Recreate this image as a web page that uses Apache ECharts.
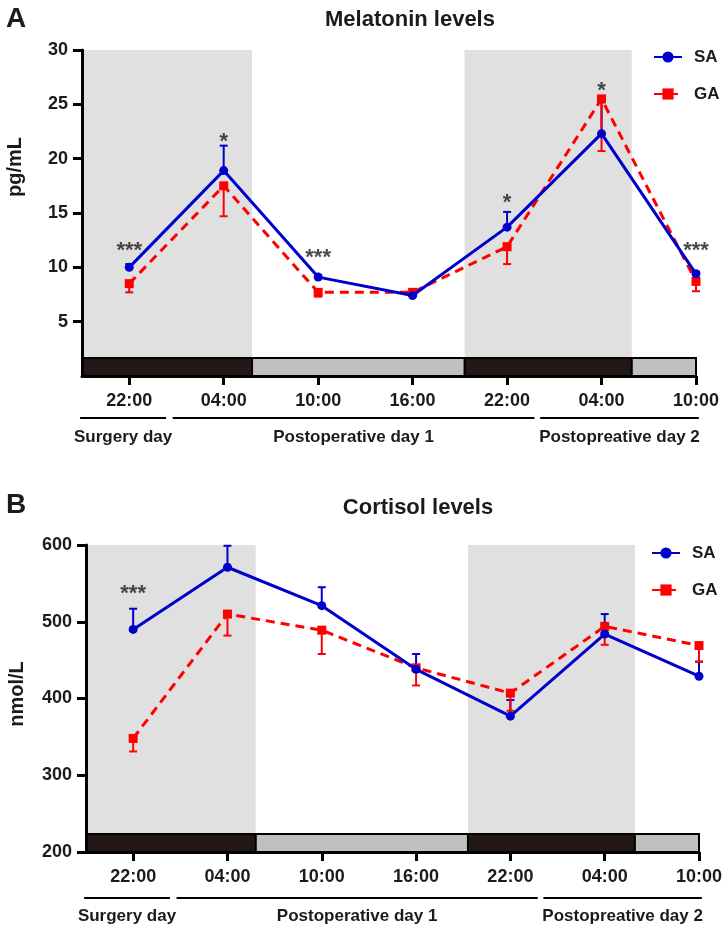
<!DOCTYPE html>
<html>
<head>
<meta charset="utf-8">
<script src="https://cdn.jsdelivr.net/npm/echarts@6/dist/echarts.min.js"></script>
<style>
  html, body { margin: 0; padding: 0; background: #fff; }
  #main { width: 727px; height: 931px; }
</style>
</head>
<body>
<div id="main"></div>
<script>
// time points (x positions 0..6, one every 6 hours)
var timeLabels = ['22:00', '04:00', '10:00', '16:00', '22:00', '04:00', '10:00'];
var timePos = [0, 1, 2, 3, 4, 5, 6];

// day groups under the time axis
var dayNames = ['Surgery day', 'Postoperative day 1', 'Postopreative day 2'];
var daySpans = [[-0.52, 0.39], [0.46, 4.29], [4.35, 6.03]];

// night (19:00-06:00) and day periods in x units
var nightSpans = [[-0.5, 1.3], [3.55, 5.32]];
var lightSpans = [[1.3, 3.55], [5.32, 6]];

// Melatonin (pg/mL)
var melTicks = [5, 10, 15, 20, 25, 30];
var melSA = [10.0, 18.9, 9.1, 7.4, 13.7, 22.3, 9.4];
var melSAerr = [0.3, 2.3, 0.2, 0.1, 1.4, 2.9, 0.2];
var melGA = [8.5, 17.5, 7.7, 7.7, 11.9, 25.5, 8.7];
var melGAerr = [0.8, 2.8, 0.4, 0.2, 1.6, 4.8, 0.9];
var melStarPos = [0, 1, 2, 4, 5, 6];
var melStarVal = [12.0, 22.0, 11.3, 16.4, 26.7, 12.0];
var melStarText = ['***', '*', '***', '*', '*', '***'];

// Cortisol (nmol/L)
var corTicks = [200, 300, 400, 500, 600];
var corSA = [490, 571, 521, 438, 377, 484, 429];
var corSAerr = [27, 28, 24, 20, 21, 26, 19];
var corGA = [348, 510, 489, 440, 407, 494, 469];
var corGAerr = [17, 28, 31, 23, 23, 24, 21];
var corStarPos = [0];
var corStarVal = [543];
var corStarText = ['***'];

var FONT = 'Liberation Sans, Arial, Helvetica, sans-serif';
var INK = '#1e1a1b';
var BLUE = '#0000cc';
var RED = '#ff0000';

function pairs(xs, ys) {
    return xs.map(function (x, i) { return [x, ys[i]]; });
}

function errData(xs, ys, es, dir) {
    return xs.map(function (x, i) { return [x, ys[i], es[i], dir]; });
}

function errorRender(params, api) {
    var x = api.value(0), y = api.value(1), e = api.value(2), dir = api.value(3);
    var p0 = api.coord([x, y]);
    var p1 = api.coord([x, y + dir * e]);
    var color = api.visual('color');
    var st = { stroke: color, lineWidth: 2 };
    return {
        type: 'group',
        children: [
            { type: 'line', shape: { x1: p0[0], y1: p0[1], x2: p1[0], y2: p1[1] }, style: st },
            { type: 'line', shape: { x1: p1[0] - 4, y1: p1[1], x2: p1[0] + 4, y2: p1[1] }, style: st }
        ]
    };
}

// night = shaded background + dark bar; day = light grey bar
function bandRender(kind) {
    return function (params, api) {
        var pA = api.coord([api.value(0), api.value(2)]);
        var pB = api.coord([api.value(1), api.value(3)]);
        var barTop = pA[1] - 18;
        var children = [];
        if (kind === 'night') {
            children.push({
                type: 'rect',
                shape: { x: pA[0], y: pB[1], width: pB[0] - pA[0], height: barTop - pB[1] },
                style: { fill: '#e0e0e0' }
            });
        }
        children.push({
            type: 'rect',
            shape: { x: pA[0], y: barTop, width: pB[0] - pA[0], height: pA[1] - barTop },
            style: { fill: kind === 'night' ? '#231815' : '#c0c0c0', stroke: '#000', lineWidth: 2 }
        });
        return { type: 'group', children: children };
    };
}

function bandData(spans, yMin, yMax) {
    return spans.map(function (s) { return [s[0], s[1], yMin, yMax]; });
}

function xAxisFor(idx) {
    return {
        type: 'value', gridIndex: idx, min: -0.5, max: 6, z: 10,
        axisLine: { onZero: false, lineStyle: { color: '#000', width: 3 } },
        axisTick: { customValues: timePos, length: 9, lineStyle: { color: '#000', width: 3 } },
        axisLabel: {
            customValues: timePos, margin: 16,
            color: INK, fontSize: 18, fontWeight: 'bold', fontFamily: FONT,
            formatter: function (v) { return timeLabels[Math.round(v)]; }
        },
        splitLine: { show: false }
    };
}

function yAxisFor(idx, min, max, ticks) {
    return {
        type: 'value', gridIndex: idx, min: min, max: max, z: 10,
        axisLine: { show: true, onZero: false, lineStyle: { color: '#000', width: 3 } },
        axisTick: { show: true, customValues: ticks, length: 9, lineStyle: { color: '#000', width: 3 } },
        axisLabel: { customValues: ticks, margin: 14, color: INK, fontSize: 18, fontWeight: 'bold', fontFamily: FONT },
        splitLine: { show: false }
    };
}

function panelSeries(idx, yMin, yMax, sa, saErr, ga, gaErr, starPos, starVal, starText) {
    return [
        {
            type: 'custom', name: 'night' + idx, xAxisIndex: idx, yAxisIndex: idx, z: 1, silent: true,
            renderItem: bandRender('night'), encode: { x: [0, 1], y: [2, 3] },
            data: bandData(nightSpans, yMin, yMax)
        },
        {
            type: 'custom', name: 'day' + idx, xAxisIndex: idx, yAxisIndex: idx, z: 1, silent: true,
            renderItem: bandRender('day'), encode: { x: [0, 1], y: [2, 3] },
            data: bandData(lightSpans, yMin, yMax)
        },
        {
            type: 'custom', name: 'SA err', xAxisIndex: idx, yAxisIndex: idx, z: 2, silent: true,
            itemStyle: { color: BLUE }, renderItem: errorRender, encode: { x: 0, y: 1 },
            data: errData(timePos, sa, saErr, 1)
        },
        {
            type: 'custom', name: 'GA err', xAxisIndex: idx, yAxisIndex: idx, z: 2, silent: true,
            itemStyle: { color: RED }, renderItem: errorRender, encode: { x: 0, y: 1 },
            data: errData(timePos, ga, gaErr, -1)
        },
        {
            type: 'line', name: 'GA', xAxisIndex: idx, yAxisIndex: idx, z: 3,
            symbol: 'rect', symbolSize: 9,
            itemStyle: { color: RED },
            lineStyle: { color: RED, width: 3, type: [9, 6] },
            data: pairs(timePos, ga)
        },
        {
            type: 'line', name: 'SA', xAxisIndex: idx, yAxisIndex: idx, z: 4,
            symbol: 'circle', symbolSize: 9,
            itemStyle: { color: BLUE },
            lineStyle: { color: BLUE, width: 3 },
            data: pairs(timePos, sa)
        },
        {
            type: 'scatter', name: 'stars' + idx, xAxisIndex: idx, yAxisIndex: idx, z: 5, silent: true,
            symbolSize: 1, itemStyle: { color: 'rgba(0,0,0,0)' },
            label: {
                show: true, position: 'inside', offset: [0, 5],
                color: INK, fontSize: 22, fontWeight: 'bold', fontFamily: FONT,
                formatter: function (p) { return p.data[2]; }
            },
            data: starPos.map(function (x, i) { return [x, starVal[i], starText[i]]; })
        }
    ];
}

function legendFor(left, top) {
    return {
        data: ['SA', 'GA'], orient: 'vertical', left: left, top: top,
        itemWidth: 28, itemHeight: 14, itemGap: 17,
        selectedMode: false,
        textStyle: { color: INK, fontSize: 17, fontWeight: 'bold', fontFamily: FONT, lineHeight: 20, padding: [0, 0, 0, 7] }
    };
}

var myChart = echarts.init(document.getElementById('main'), null, { renderer: 'canvas' });

myChart.setOption({
    animation: false,
    backgroundColor: '#fff',
    title: [
        { text: 'Melatonin levels', left: 410, top: 9, textAlign: 'center', padding: 0,
          textStyle: { color: INK, fontSize: 22, fontWeight: 'bold', fontFamily: FONT } },
        { text: 'Cortisol levels', left: 418, top: 497, textAlign: 'center', padding: 0,
          textStyle: { color: INK, fontSize: 22, fontWeight: 'bold', fontFamily: FONT } }
    ],
    legend: [legendFor(648, 42), legendFor(646, 538)],
    grid: [
        { left: 82, right: 31, top: 50, height: 326, outerBoundsMode: 'none' },
        { left: 86, right: 28, top: 545, height: 307, outerBoundsMode: 'none' }
    ],
    xAxis: [xAxisFor(0), xAxisFor(1)],
    yAxis: [yAxisFor(0, 0, 30, melTicks), yAxisFor(1, 200, 600, corTicks)],
    series: panelSeries(0, 0, 30, melSA, melSAerr, melGA, melGAerr, melStarPos, melStarVal, melStarText)
        .concat(panelSeries(1, 200, 600, corSA, corSAerr, corGA, corGAerr, corStarPos, corStarVal, corStarText))
});

// day grouping lines + labels, panel letters, y-axis names
function dayGraphics(idx, yMin, lineOff, textOff) {
    var axisY = myChart.convertToPixel({ yAxisIndex: idx }, yMin);
    var out = [];
    daySpans.forEach(function (s, i) {
        var x0 = myChart.convertToPixel({ xAxisIndex: idx }, s[0]);
        var x1 = myChart.convertToPixel({ xAxisIndex: idx }, s[1]);
        out.push({
            type: 'line', silent: true,
            shape: { x1: x0, y1: axisY + lineOff, x2: x1, y2: axisY + lineOff },
            style: { stroke: '#000', lineWidth: 2 }
        });
        out.push({
            type: 'text', silent: true,
            x: (x0 + x1) / 2, y: axisY + textOff,
            style: { text: dayNames[i], fill: INK, font: 'bold 17px ' + FONT, align: 'center', verticalAlign: 'middle' }
        });
    });
    return out;
}

function label(text, x, y, size, rot) {
    return {
        type: 'text', silent: true, x: x, y: y, rotation: rot || 0,
        style: { text: text, fill: INK, font: 'bold ' + size + 'px ' + FONT, align: 'center', verticalAlign: 'middle' }
    };
}

var graphics = dayGraphics(0, 0, 42, 61).concat(dayGraphics(1, 200, 46, 64));
graphics.push(label('A', 16, 19, 28));
graphics.push(label('B', 16, 505, 28));
graphics.push(label('pg/mL', 15, 167, 20, Math.PI / 2));
graphics.push(label('nmol/L', 17, 694, 20, Math.PI / 2));

myChart.setOption({ graphic: graphics });
</script>
</body>
</html>
